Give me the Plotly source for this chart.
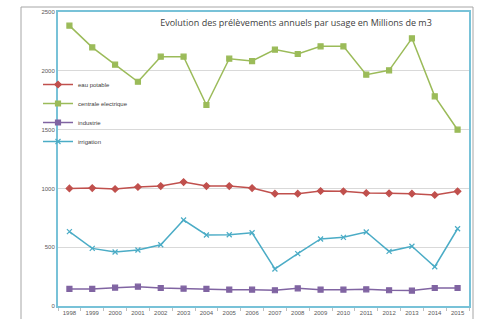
import plotly.graph_objects as go

years = [str(y) for y in range(1998, 2016)]
eau_potable = [1000, 1003, 995, 1012, 1020, 1054, 1020, 1020, 1003, 955, 955, 978, 975, 961, 958, 955, 944, 975]
centrale = [2384, 2199, 2052, 1907, 2120, 2120, 1709, 2103, 2083, 2180, 2143, 2208, 2208, 1967, 2004, 2276, 1783, 1499]
industrie = [145, 145, 156, 164, 153, 147, 145, 139, 139, 134, 150, 139, 139, 142, 134, 131, 153, 153]
irrigation = [632, 490, 459, 476, 521, 731, 604, 606, 623, 315, 445, 570, 584, 629, 465, 508, 334, 657]

series = [
    ("eau potable", eau_potable, "#C0504D", "diamond", 5),
    ("centrale electrique", centrale, "#9BBB59", "square", 5),
    ("industrie", industrie, "#8064A2", "square", 5),
    ("irrigation", irrigation, "#4BACC6", "x-thin-open", 5),
]

fig = go.Figure()
for name, vals, color, sym, size in series:
    fig.add_trace(go.Scatter(
        x=years, y=vals, name=name, mode="lines+markers",
        line=dict(color=color, width=1.5),
        marker=dict(symbol=sym, size=size, color=color, line=dict(color=color, width=1.2)),
    ))

W, H = 479, 319
L, R, T, B = 58, 10, 12, 13
pw, ph = W - L - R, H - T - B

fig.update_layout(
    width=W, height=H,
    margin=dict(l=L, r=R, t=T, b=B, autoexpand=False),
    paper_bgcolor="white", plot_bgcolor="white",
    font=dict(family="Liberation Sans, Arial, sans-serif", color="#595959", size=6),
    title=dict(
        text="Evolution des prélèvements annuels par usage en Millions de m3",
        font=dict(family="Open Sans, Liberation Sans, sans-serif", size=9, color="#404040"),
        x=296 / W, xanchor="center", y=1 - 23 / H, yanchor="middle",
    ),
    legend=dict(
        x=(38 - L) / pw, xanchor="left", y=1 - (70 - T) / ph, yanchor="top",
        bgcolor="rgba(0,0,0,0)", font=dict(size=6, color="#404040"),
        tracegroupgap=0,
    ),
    showlegend=True,
)
fig.update_xaxes(
    type="category", tickson="boundaries", ticks="outside", ticklen=3,
    tickcolor="#BFBFBF", showgrid=False, showline=True, mirror=True,
    linecolor="#78C2D8", linewidth=2, tickfont=dict(size=6, color="#595959"),
    tickangle=0, automargin=False,
    range=[-0.5, 17.5], zeroline=False,
)
fig.update_yaxes(
    range=[0, 2500], dtick=500, showgrid=True, gridcolor="#D9D9D9", gridwidth=1,
    showline=True, mirror=True, linecolor="#78C2D8", linewidth=2, automargin=False,
    ticks="", tickfont=dict(size=6, color="#595959"), zeroline=False,
)
fig.add_shape(
    type="rect", xref="paper", yref="paper",
    x0=(21 - L) / pw, x1=(473 - L) / pw, y0=-0.2, y1=1 + (T - 7) / ph,
    line=dict(color="#A6A6A6", width=1), layer="below",
)
fig.write_html(
    "out.html",
    config={"displayModeBar": False},
    post_script="document.body.style.margin='0';document.body.style.overflow='hidden';",
)
